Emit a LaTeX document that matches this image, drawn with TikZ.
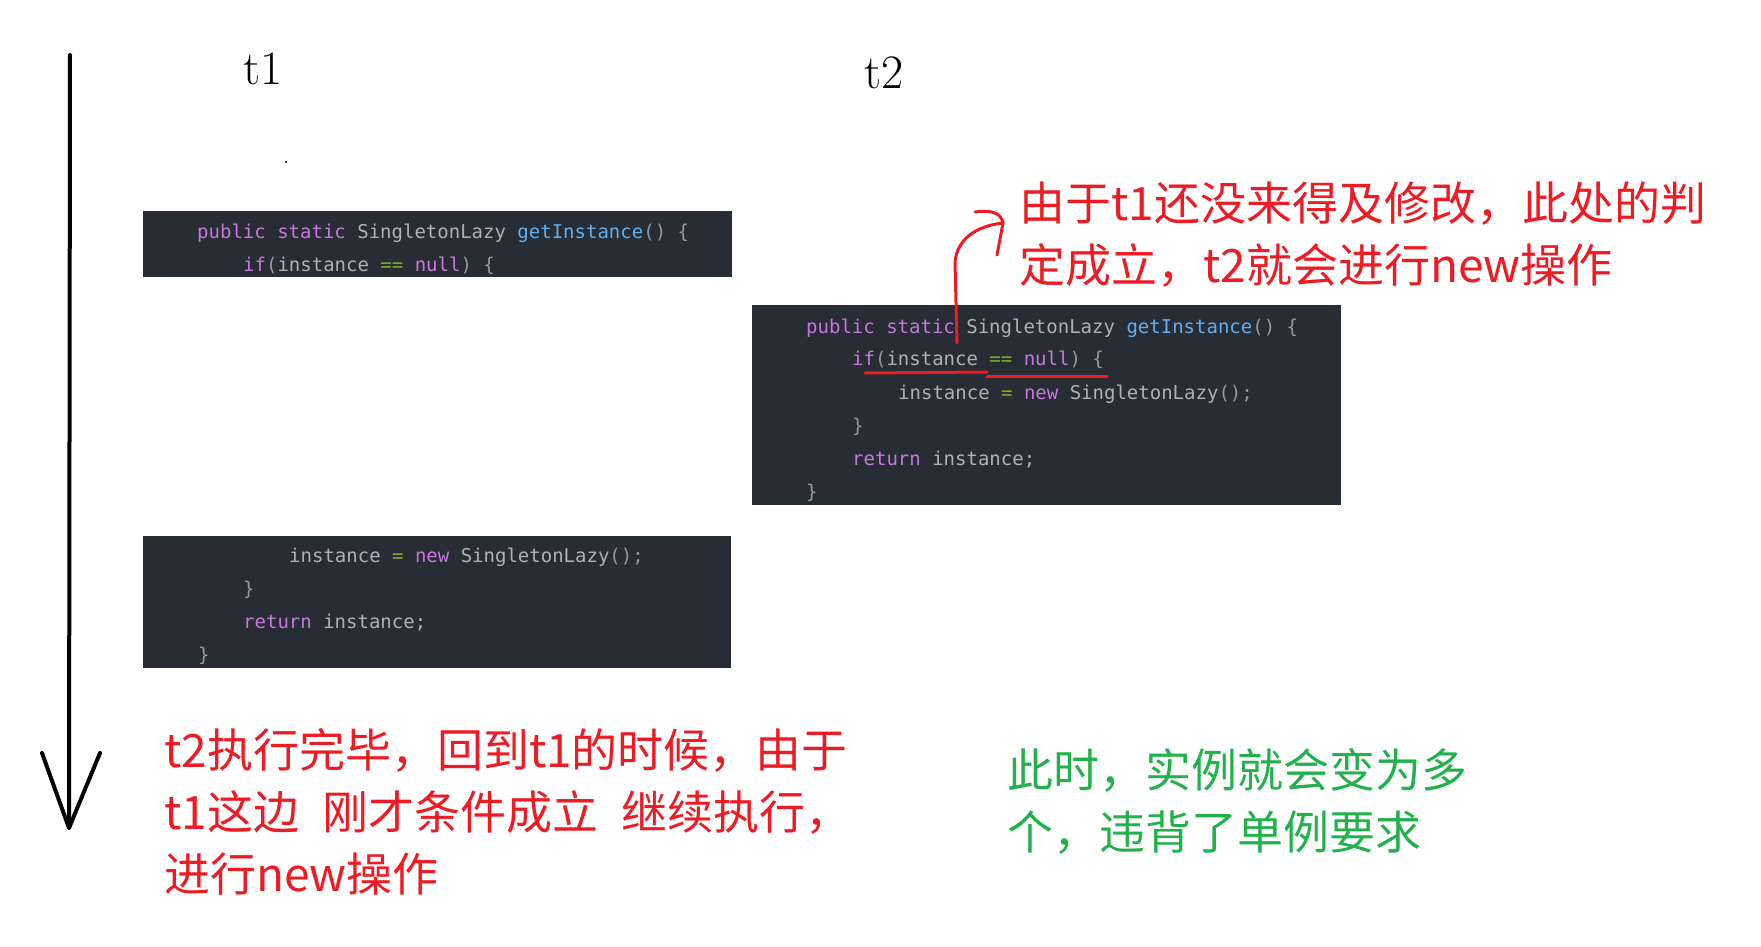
\documentclass[tikz,border=0pt]{standalone}
\usepackage{fontspec}
\usepackage{tikz}
\newfontfamily\cjk{Noto Sans CJK SC}
\newfontfamily\codefont{DejaVu Sans Mono}
\definecolor{codebg}{HTML}{282C34}
\definecolor{codefg}{HTML}{ABB2BF}
\definecolor{codekw}{HTML}{C678DD}
\definecolor{codefn}{HTML}{61AFEF}
\definecolor{codeop}{HTML}{7FB020}
\definecolor{codebr}{HTML}{9299A4}
\definecolor{notered}{HTML}{ED1C24}
\definecolor{notegreen}{HTML}{22B14C}
\newcommand{\kwd}[1]{\textcolor{codekw}{#1}}
\newcommand{\fnc}[1]{\textcolor{codefn}{#1}}
\newcommand{\opr}[1]{\textcolor{codeop}{#1}}
\newcommand{\brc}[1]{\textcolor{codebr}{#1}}
\tikzset{
  codeline/.style={anchor=base west,inner sep=0pt,text=codefg,
    font=\codefont\fontsize{19}{22}\selectfont},
  thread/.style={anchor=base west,inner sep=0pt,font=\fontsize{48}{58}\selectfont},
  rednote/.style={anchor=base west,inner sep=0pt,align=left,text=notered,
    font=\cjk\fontsize{46}{62}\selectfont},
  greennote/.style={rednote,text=notegreen},
  timeaxis/.style={line width=4pt,black},
  redpen/.style={line width=3pt,notered}
}

\begin{document}
\begin{tikzpicture}[x=1pt,y=-1pt,line cap=round,join=round]
          \useasboundingbox (0,0) rectangle (1761,947);
          % time axis
          \coordinate (ttop) at (70,55);
          \coordinate (tbot) at (69,828);
          \coordinate (tlarm) at (42,753);
          \coordinate (trarm) at (100,753);
          \draw[timeaxis] (ttop)--(tbot);
          \draw[timeaxis] (tlarm)--(tbot)--(trarm);
          % threads
          \node[thread] (t1) at (243,85) {t1};
          \node[thread] (t2) at (864,89) {t2};
          \fill (286,162) circle (1.2);
          % t1, first part
          \fill[codebg] (143,211) rectangle (732,277);
          \node[codeline] (a1) at (197,238) {\kwd{public static} SingletonLazy \fnc{getInstance}\brc{() \{}};
          \node[codeline] (a2) at (243,271) {\kwd{if}\brc{(}instance \opr{==} \kwd{null}\brc{) \{}};
          % t2
          \fill[codebg] (752,305) rectangle (1341,505);
          \node[codeline] (b1) at (806,333) {\kwd{public static} SingletonLazy \fnc{getInstance}\brc{() \{}};
          \node[codeline] (b2) at (852,365) {\kwd{if}\brc{(}instance \opr{==} \kwd{null}\brc{) \{}};
          \node[codeline] (b3) at (898,399) {instance \opr{=} \kwd{new} SingletonLazy\brc{();}};
          \node[codeline] (b4) at (852,432) {\brc{\}}};
          \node[codeline] (b5) at (852,465) {\kwd{return} instance;};
          \node[codeline] (b6) at (806,498) {\brc{\}}};
          % t1, second part
          \fill[codebg] (143,536) rectangle (731,668);
          \node[codeline] (c1) at (289,562) {instance \opr{=} \kwd{new} SingletonLazy\brc{();}};
          \node[codeline] (c2) at (243,595) {\brc{\}}};
          \node[codeline] (c3) at (243,628) {\kwd{return} instance;};
          \node[codeline] (c4) at (198,661) {\brc{\}}};
          % red marks on t2
          \coordinate (ul1) at (865,373);
          \coordinate (ul2) at (987,372);
          \coordinate (ul3) at (987,376);
          \coordinate (ul4) at (1107,376);
          \draw[redpen] (ul1)--(ul2);
          \draw[redpen] (ul3)--(ul4);
          \coordinate (chk) at (957,343);
          \coordinate (bend) at (955,262);
          \coordinate (tip) at (1003,223);
          \coordinate (hookl) at (975,212);
          \coordinate (hookend) at (997,255);
          \draw[redpen] (chk)--(bend) .. controls (957,240) and (975,226) .. (tip);
          \draw[redpen] (hookl) .. controls (990,210) and (1001,212) .. (tip)--(hookend);
          % notes (base = last line)
          \node[rednote] (n1) at (1019,282) {由于t1还没来得及修改，此处的判\\定成立，t2就会进行new操作};
          \node[rednote] (n2) at (164,891) {t2执行完毕，回到t1的时候，由于\\t1这边\hspace{.5em}刚才条件成立\hspace{.5em}继续执行，\\进行new操作};
          \node[greennote] (n3) at (1007,849) {此时，实例就会变为多\\个，违背了单例要求};
    \end{tikzpicture}
\end{document}
